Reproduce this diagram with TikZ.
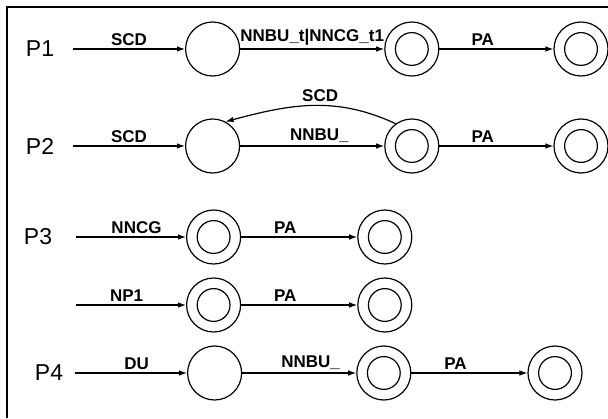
\documentclass[tikz,border=0pt]{standalone}
\usepackage{fontspec}
\setmainfont{Liberation Sans}
\usetikzlibrary{positioning,arrows.meta}

\begin{document}
\begin{tikzpicture}[
  x=0.5pt, y=0.5pt, line width=0.6pt, >={Latex[length=4pt,width=2.8pt]}, node distance=57pt,
  state/.style={draw, circle, minimum size=27pt, inner sep=0pt},
  accept/.style={state, path picture={\draw (path picture bounding box.center) circle[radius=8.2pt];}},
  lbl/.style={font=\fontsize{8.5}{10}\selectfont\bfseries, inner sep=1.5pt},
  pname/.style={font=\fontsize{11.5}{13}\selectfont}
]
  \useasboundingbox (0,0) rectangle (608,418);
  \draw[line width=0.8pt] (7,0) -- (7,411) -- (608,411);

  % start points of the rows
  \coordinate (s1) at (73,369);
  \coordinate (s2) at (73,272);
  \coordinate (s3) at (76,181);
  \coordinate (s4) at (76,113);
  \coordinate (s5) at (75,45);
  \node[pname] (P1) at (40,369) {P1};
  \node[pname] (P2) at (40,272) {P2};
  \node[pname] (P3) at (38,181) {P3};
  \node[pname] (P4) at (49,45) {P4};

  % P1
  \node[state, right=56pt of s1] (r1a) {};
  \node[accept, right=72pt of r1a] (r1b) {};
  \node[accept, right=of r1b] (r1c) {};
  \draw[->] (s1) -- node[lbl, above] {SCD} (r1a);
  \draw[->] (r1a) -- node[lbl, above] {NNBU\_t|NNCG\_t1} (r1b);
  \draw[->] (r1b) -- node[lbl, above, pos=0.38] {PA} (r1c);

  % P2
  \node[state, right=56pt of s2] (r2a) {};
  \node[accept, right=72pt of r2a] (r2b) {};
  \node[accept, right=of r2b] (r2c) {};
  \draw[->] (s2) -- node[lbl, above] {SCD} (r2a);
  \draw[->] (r2a) -- node[lbl, above, pos=0.55] {NNBU\_} (r2b);
  \draw[->] (r2b) -- node[lbl, above, pos=0.38] {PA} (r2c);
  \draw[->] (r2b.126) to[out=155, in=15] node[lbl, above, pos=0.45] {SCD} (r2a.62);

  % P3
  \node[accept, right=55pt of s3] (r3a) {};
  \node[accept, right=58pt of r3a] (r3b) {};
  \draw[->] (s3) -- node[lbl, above, pos=0.55] {NNCG} (r3a);
  \draw[->] (r3a) -- node[lbl, above, pos=0.38] {PA} (r3b);

  \node[accept, right=55pt of s4] (r4a) {};
  \node[accept, right=58pt of r4a] (r4b) {};
  \draw[->] (s4) -- node[lbl, above, pos=0.46] {NP1} (r4a);
  \draw[->] (r4a) -- node[lbl, above, pos=0.38] {PA} (r4b);

  % P4
  \node[state, right=56pt of s5] (r5a) {};
  \node[accept, right=of r5a] (r5b) {};
  \node[accept, right=58pt of r5b] (r5c) {};
  \draw[->] (s5) -- node[lbl, above, pos=0.55] {DU} (r5a);
  \draw[->] (r5a) -- node[lbl, above, pos=0.6] {NNBU\_} (r5b);
  \draw[->] (r5b) -- node[lbl, above, pos=0.38] {PA} (r5c);
\end{tikzpicture}
\end{document}
